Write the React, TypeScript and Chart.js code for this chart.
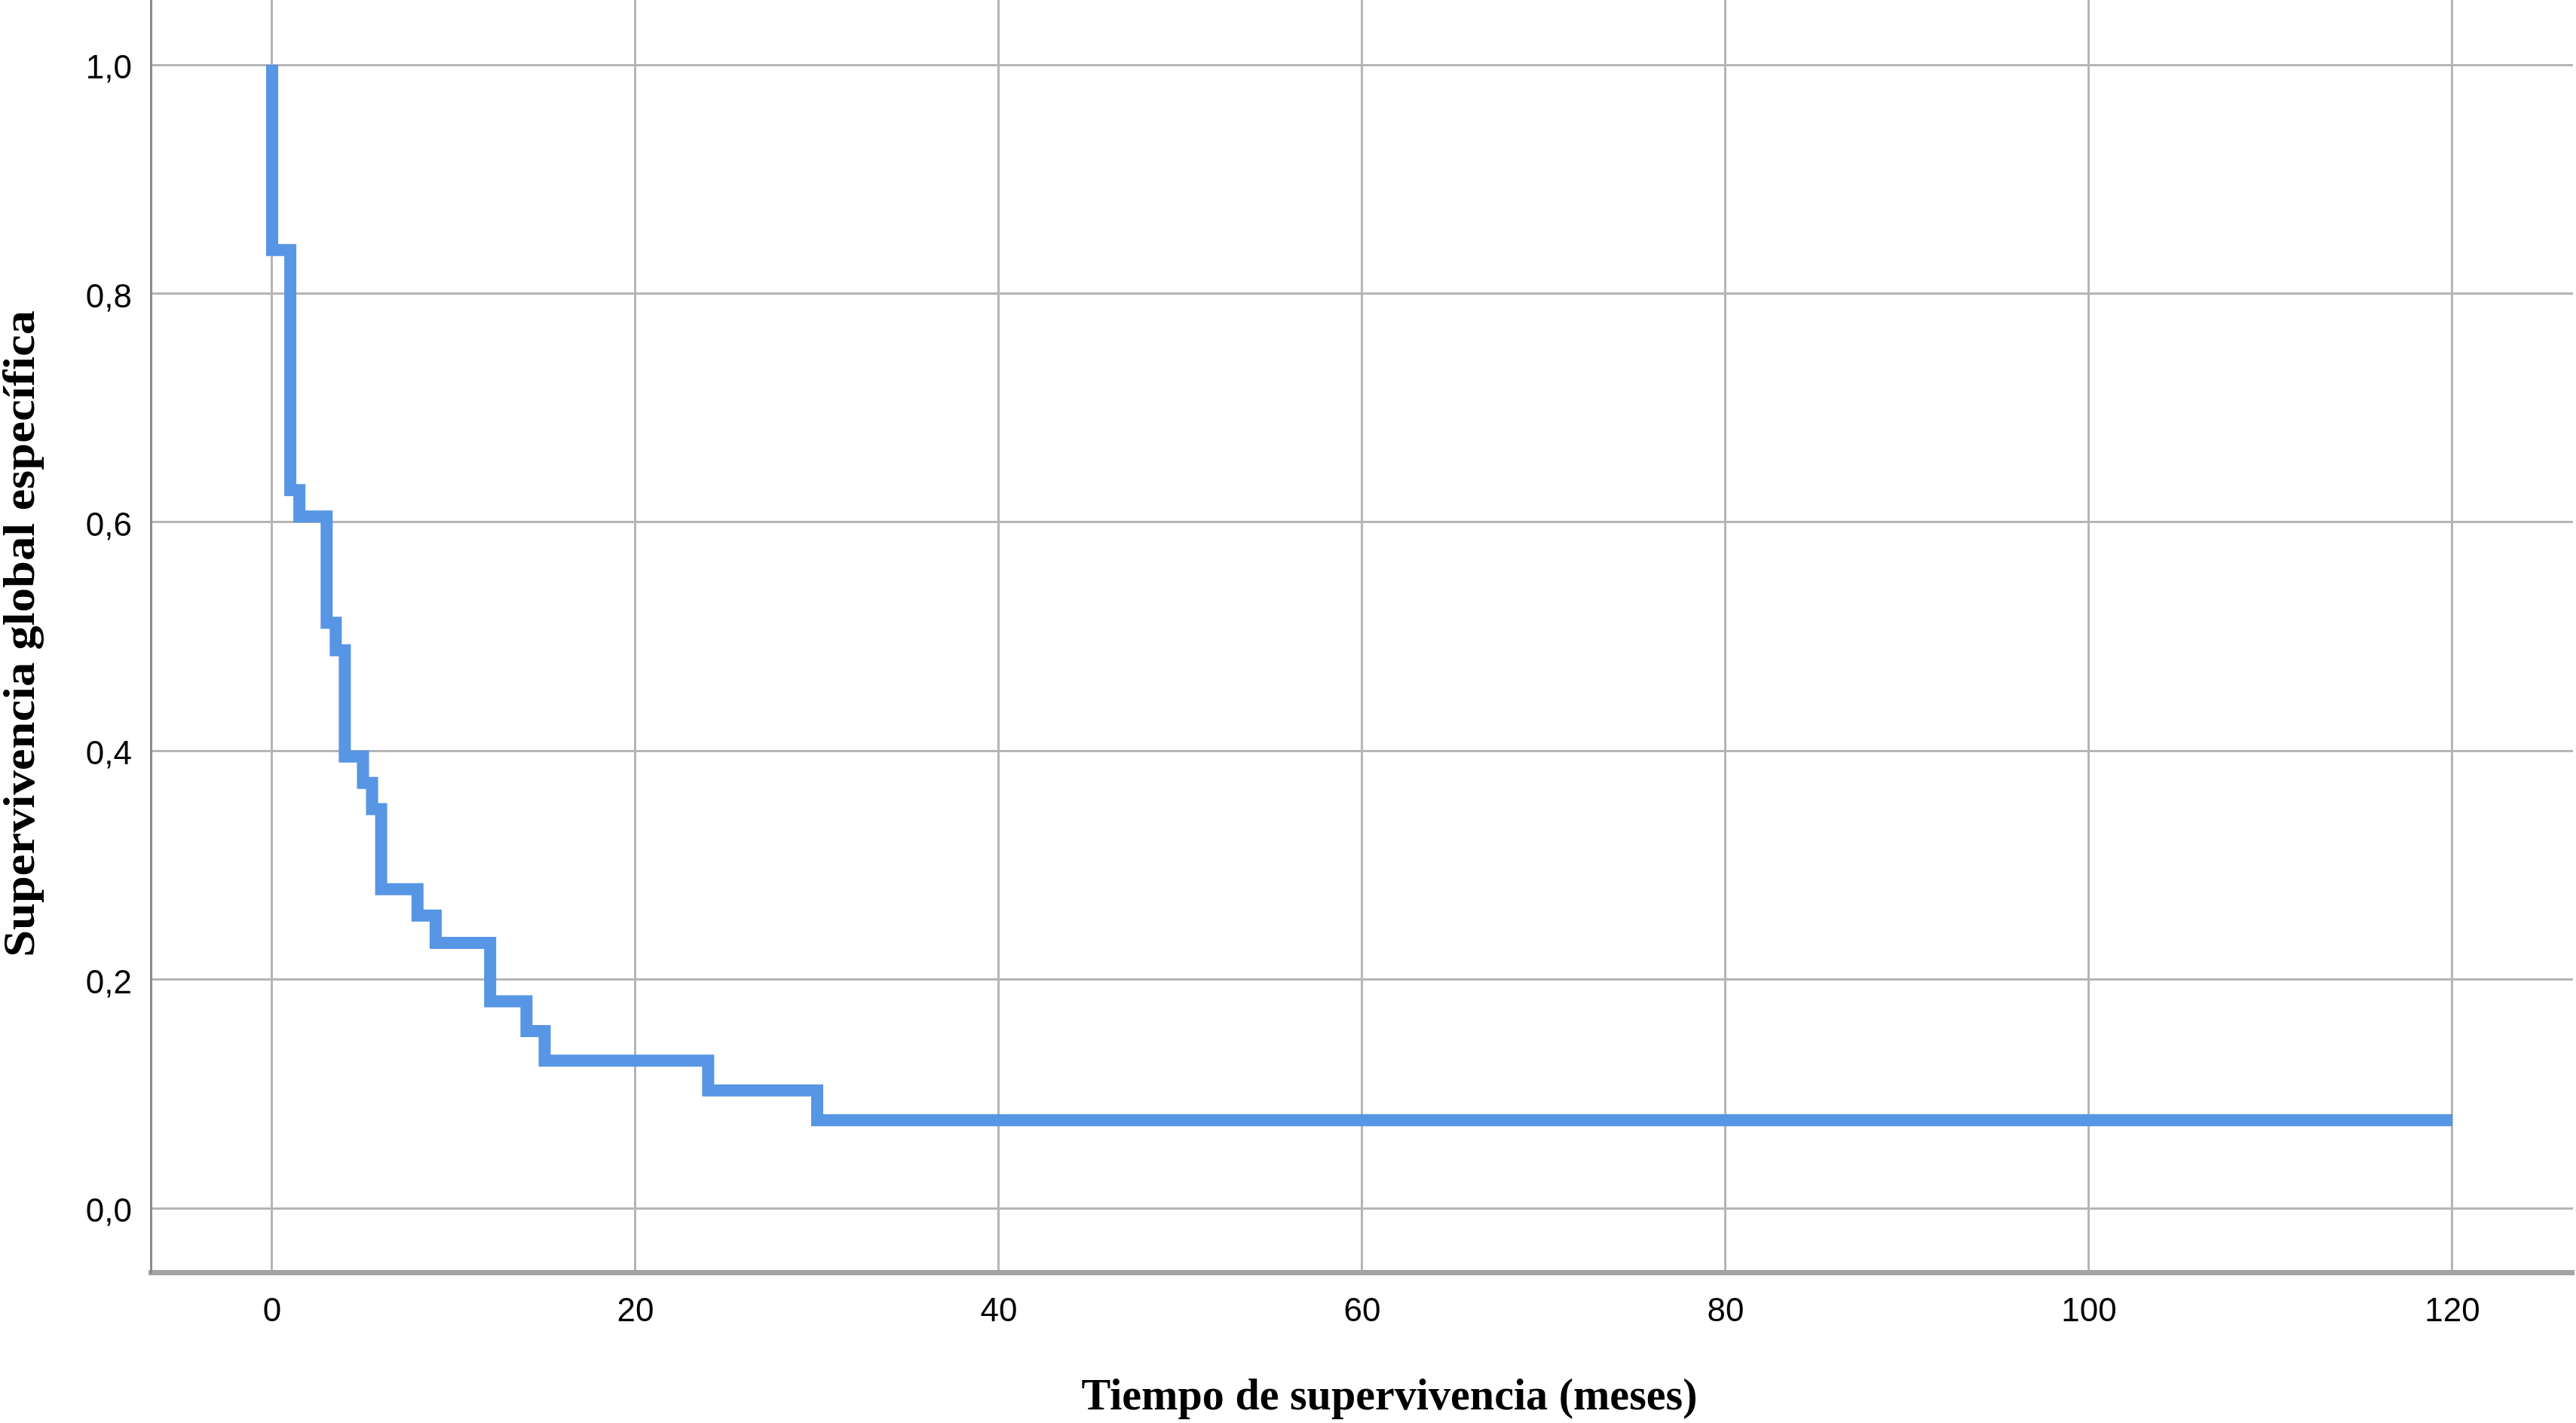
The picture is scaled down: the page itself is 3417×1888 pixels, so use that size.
import React, { useEffect, useRef } from "react";
import { Chart, registerables } from "chart.js";

Chart.register(...registerables);

// Kaplan-Meier step points (time in months, survival)
const times: number[] = [0, 0, 1, 1.5, 3, 3.5, 4, 5, 5.5, 6, 8, 9, 12, 14, 15, 24, 30, 120];
const survival: number[] = [1.0, 0.838, 0.628, 0.605, 0.512, 0.488, 0.395, 0.372, 0.349, 0.279, 0.256, 0.232, 0.181, 0.155, 0.129, 0.103, 0.077, 0.077];

const xTickValues: number[] = [0, 20, 40, 60, 80, 100, 120];
const yTickValues: number[] = [0, 0.2, 0.4, 0.6, 0.8, 1.0];

const xTitle = "Tiempo de supervivencia (meses)";
const yTitle = "Supervivencia global específica";

const W = 3417;
const H = 1888;

export default function App() {
  const ref = useRef<HTMLCanvasElement | null>(null);

  useEffect(() => {
    const canvas = ref.current;
    if (!canvas) return;

    const titlePlugin = {
      id: "axisTitles",
      afterDraw(chart: any) {
        const ctx = chart.ctx as CanvasRenderingContext2D;
        // x title
        ctx.save();
        ctx.fillStyle = "#000";
        ctx.font = 'bold 59px "Liberation Serif", "Times New Roman", serif';
        const wx = ctx.measureText(xTitle).width;
        ctx.translate(1843, 1870);
        ctx.scale(817 / wx, 1);
        ctx.textAlign = "center";
        ctx.textBaseline = "alphabetic";
        ctx.fillText(xTitle, 0, 0);
        ctx.restore();
        // y title
        ctx.save();
        ctx.fillStyle = "#000";
        ctx.font = 'bold 60px "Liberation Serif", "Times New Roman", serif';
        const wy = ctx.measureText(yTitle).width;
        ctx.translate(45, 841);
        ctx.rotate(-Math.PI / 2);
        ctx.scale(858 / wy, 1);
        ctx.textAlign = "center";
        ctx.textBaseline = "alphabetic";
        ctx.fillText(yTitle, 0, 0);
        ctx.restore();
      },
    };

    const chart = new Chart(canvas, {
      type: "line",
      data: {
        datasets: [
          {
            data: times.map((t, i) => ({ x: t, y: survival[i] })),
            borderColor: "#5795e5",
            backgroundColor: "#5795e5",
            borderWidth: 16,
            pointRadius: 0,
            stepped: true,
            tension: 0,
            fill: false,
          },
        ],
      },
      options: {
        animation: false,
        responsive: false,
        devicePixelRatio: 1,
        layout: { padding: { left: 0, top: 0, right: 4, bottom: 0 } },
        plugins: {
          legend: { display: false },
          tooltip: { enabled: false },
          title: { display: false },
        },
        scales: {
          x: {
            type: "linear",
            min: -6.68,
            max: 126.64,
            afterBuildTicks: (scale: any) => {
              scale.ticks = xTickValues.map((v) => ({ value: v }));
            },
            afterFit: (scale: any) => {
              scale.height = 200;
              scale.paddingLeft = 0;
              scale.paddingRight = 0;
              scale.paddingTop = 0;
              scale.paddingBottom = 0;
            },
            grid: {
              color: "#b5b5b5",
              lineWidth: 3,
              drawTicks: false,
            },
            border: { display: true, color: "#a3a3a3", width: 7 },
            ticks: {
              color: "#000",
              padding: 26,
              maxRotation: 0,
              autoSkip: false,
              font: { family: '"Liberation Sans", Arial, sans-serif', size: 44 },
              callback: (v: any) => String(v),
            },
          },
          y: {
            type: "linear",
            min: -0.056,
            max: 1.0567,
            afterBuildTicks: (scale: any) => {
              scale.ticks = yTickValues.map((v) => ({ value: v }));
            },
            afterFit: (scale: any) => {
              scale.width = 200;
              scale.paddingLeft = 0;
              scale.paddingRight = 0;
              scale.paddingTop = 0;
              scale.paddingBottom = 0;
            },
            grid: {
              color: "#b5b5b5",
              lineWidth: 3,
              drawTicks: false,
            },
            border: { display: true, color: "#8a8a8a", width: 3 },
            ticks: {
              color: "#000",
              padding: 25,
              labelOffset: 6,
              autoSkip: false,
              font: { family: '"Liberation Sans", Arial, sans-serif', size: 44 },
              callback: (v: any) => Number(v).toFixed(1).replace(".", ","),
            },
          },
        },
      },
      plugins: [titlePlugin],
    });

    return () => {
      chart.destroy();
    };
  }, []);

  return (
    <canvas
      ref={ref}
      width={W}
      height={H}
      style={{ position: "fixed", left: 0, top: 0, width: W, height: H, display: "block", background: "#fff" }}
    />
  );
}
